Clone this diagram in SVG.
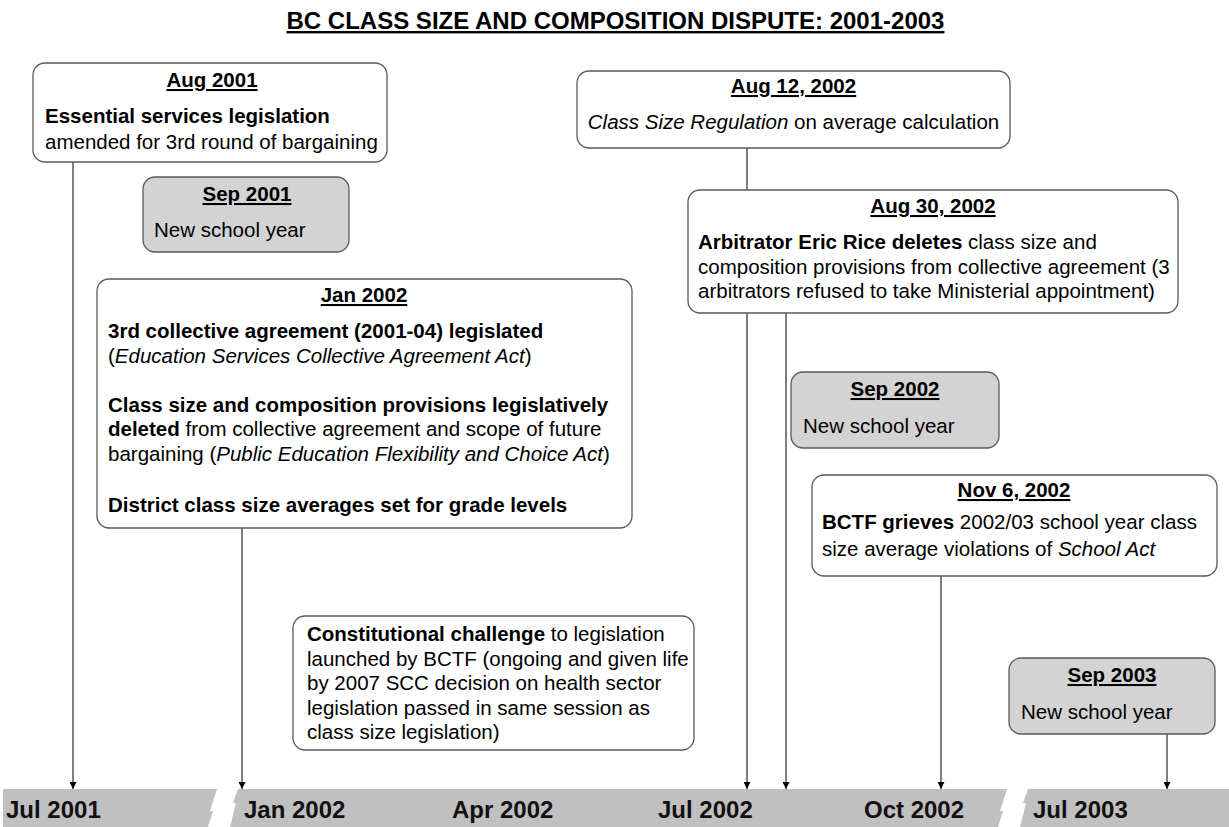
<svg xmlns="http://www.w3.org/2000/svg" width="1229" height="827" viewBox="0 0 1229 827">
<style>
.box{fill:#ffffff;stroke:#5a5a5a;stroke-width:1.3}
.gbox{fill:#d3d3d3;stroke:#5a5a5a;stroke-width:1.3}
.t{font-family:"Liberation Sans",Arial,sans-serif;font-size:20.5px;fill:#000}
.h{font-weight:bold;text-decoration:underline;text-anchor:middle}
.b{font-weight:bold}
.i{font-style:italic}
.conn{stroke:#000;stroke-width:1;fill:none;marker-end:url(#arr)}
.ax{font-family:"Liberation Sans",Arial,sans-serif;font-size:24px;font-weight:bold;fill:#111}
.title{font-family:"Liberation Sans",Arial,sans-serif;font-size:24px;font-weight:bold;text-decoration:underline;text-anchor:middle;fill:#000}
</style>
<defs>
<marker id="arr" viewBox="0 0 10 10" refX="10" refY="5" markerWidth="8" markerHeight="7" orient="auto" markerUnits="userSpaceOnUse">
<path d="M0,0 L10,5 L0,10 z" fill="#000"/>
</marker>
</defs>
<rect width="1229" height="827" fill="#fff"/>
<text id="title" class="title" x="615.5" y="29">BC CLASS SIZE AND COMPOSITION DISPUTE: 2001-2003</text>

<g id="timeline">
<rect x="3" y="789" width="1226" height="38" fill="#c0c0c0"/>
<polygon points="217,789 238,789 233,803 236,803 230,827 208,827 213,811 210,811" fill="#fff"/>
<polygon points="1007,789 1028,789 1023,803 1026,803 1020,827 998,827 1003,811 1000,811" fill="#fff"/>
<text class="ax" x="6" y="818">Jul 2001</text>
<text class="ax" x="244" y="818">Jan 2002</text>
<text class="ax" x="452" y="818">Apr 2002</text>
<text class="ax" x="658" y="818">Jul 2002</text>
<text class="ax" x="864" y="818">Oct 2002</text>
<text class="ax" x="1033" y="818">Jul 2003</text>
</g>

<g id="connectors">
<line class="conn" x1="73" y1="162" x2="73" y2="789"/>
<line class="conn" x1="242" y1="528" x2="242" y2="789"/>
<line class="conn" x1="747" y1="148" x2="747" y2="789"/>
<line class="conn" x1="786" y1="313" x2="786" y2="789"/>
<line class="conn" x1="941" y1="576" x2="941" y2="789"/>
<line class="conn" x1="1167" y1="734" x2="1167" y2="789"/>
</g>

<g id="aug2001">
<rect class="box" x="33" y="63" width="354" height="99" rx="12"/>
<text class="t h" x="212" y="87">Aug 2001</text>
<text class="t b" x="45" y="123">Essential services legislation</text>
<text class="t" x="45" y="149">amended for 3rd round of bargaining</text>
</g>

<g id="sep2001">
<rect class="gbox" x="143" y="177" width="206" height="75" rx="12"/>
<text class="t h" x="247" y="201">Sep 2001</text>
<text class="t" x="154" y="237">New school year</text>
</g>

<g id="jan2002">
<rect class="box" x="97" y="279" width="535" height="249" rx="12"/>
<text class="t h" x="364" y="302">Jan 2002</text>
<text class="t b" x="108" y="338">3rd collective agreement (2001-04) legislated</text>
<text class="t" x="108" y="362.5">(<tspan class="i">Education Services Collective Agreement Act</tspan>)</text>
<text class="t b" x="108" y="411.5">Class size and composition provisions legislatively</text>
<text class="t" x="108" y="436"><tspan class="b">deleted</tspan> from collective agreement and scope of future</text>
<text class="t" x="108" y="460.5">bargaining (<tspan class="i">Public Education Flexibility and Choice Act</tspan>)</text>
<text class="t b" x="108" y="512">District class size averages set for grade levels</text>
</g>

<g id="constitutional">
<rect class="box" x="293" y="616" width="401" height="134" rx="12"/>
<text class="t" x="307" y="641"><tspan class="b">Constitutional challenge</tspan> to legislation</text>
<text class="t" x="307" y="665.5">launched by BCTF (ongoing and given life</text>
<text class="t" x="307" y="690">by 2007 SCC decision on health sector</text>
<text class="t" x="307" y="714.5">legislation passed in same session as</text>
<text class="t" x="307" y="739">class size legislation)</text>
</g>

<g id="aug12-2002">
<rect class="box" x="577" y="71" width="433" height="77" rx="12"/>
<text class="t h" x="793.5" y="93">Aug 12, 2002</text>
<text class="t" x="793.5" y="129" text-anchor="middle"><tspan class="i">Class Size Regulation</tspan> on average calculation</text>
</g>

<g id="aug30-2002">
<rect class="box" x="688" y="190" width="490" height="123" rx="12"/>
<text class="t h" x="933" y="213">Aug 30, 2002</text>
<text class="t" x="698" y="249"><tspan class="b">Arbitrator Eric Rice deletes</tspan> class size and</text>
<text class="t" x="698" y="273.5">composition provisions from collective agreement (3</text>
<text class="t" x="698" y="298">arbitrators refused to take Ministerial appointment)</text>
</g>

<g id="sep2002">
<rect class="gbox" x="791" y="372" width="208" height="76" rx="12"/>
<text class="t h" x="895" y="396">Sep 2002</text>
<text class="t" x="803" y="433">New school year</text>
</g>

<g id="nov6-2002">
<rect class="box" x="812" y="475" width="405" height="101" rx="12"/>
<text class="t h" x="1014" y="497">Nov 6, 2002</text>
<text class="t" x="822" y="529"><tspan class="b">BCTF grieves</tspan> 2002/03 school year class</text>
<text class="t" x="822" y="556">size average violations of <tspan class="i">School Act</tspan></text>
</g>

<g id="sep2003">
<rect class="gbox" x="1009" y="658" width="206" height="76" rx="12"/>
<text class="t h" x="1112" y="682">Sep 2003</text>
<text class="t" x="1021" y="719">New school year</text>
</g>
</svg>
